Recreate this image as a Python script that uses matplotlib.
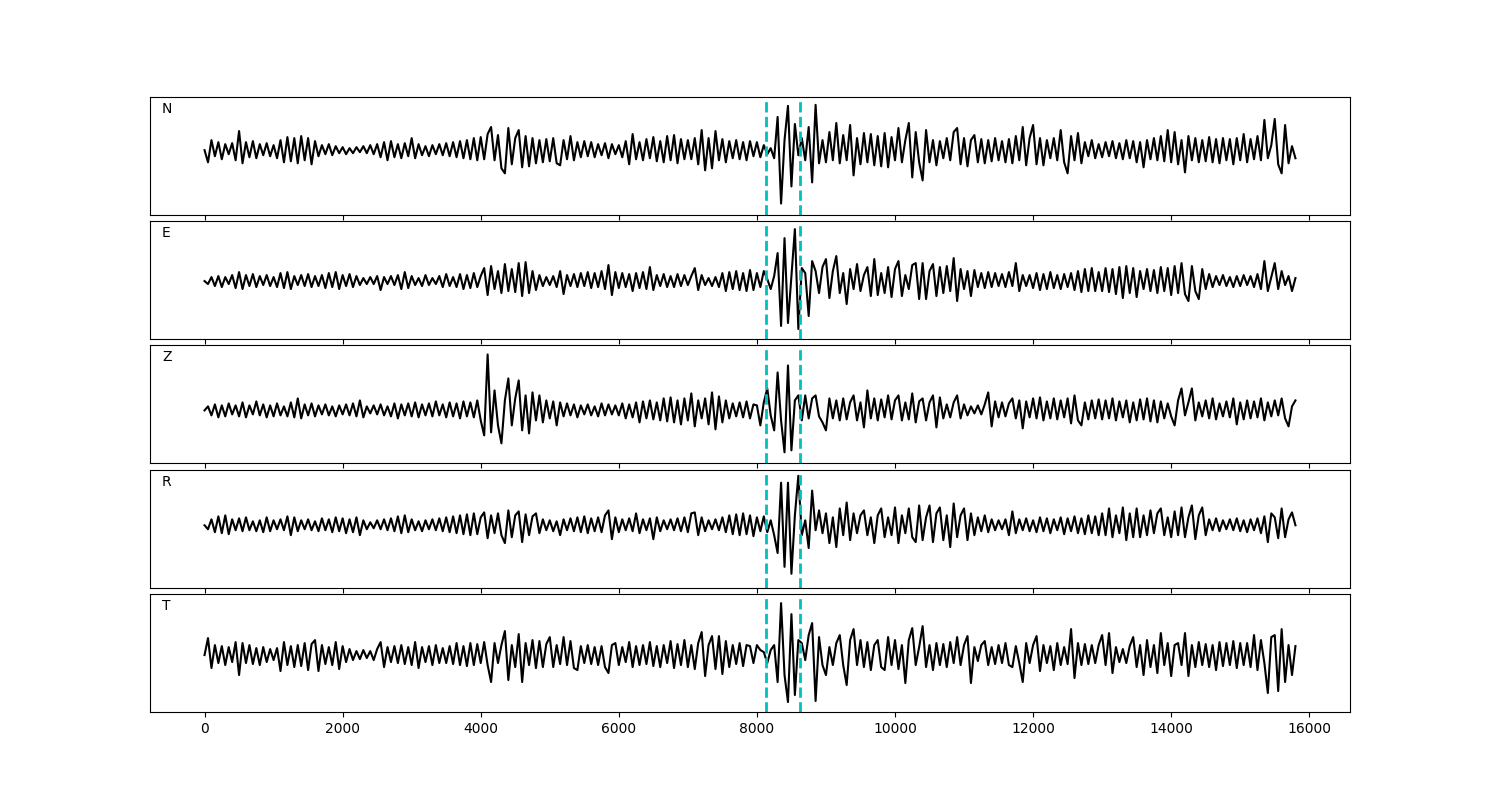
import numpy as np
import matplotlib.pyplot as plt

dt = 50
picks = [8130, 8620]
labels = ['N', 'E', 'Z', 'R', 'T']

n_trace = [
    0, -12, 10, -6, 8, -9, 6, -4, 7, -10, 19, -13, 8, -7, 9, -8, 6, -5, 7, -6,
    5, -8, 10, -12, 13, -11, 12, -13, 14, -10, 12, -14, 9, -6, 5, -4, 6, -5, 4, -3,
    3, -4, 2, -3, 3, -2, 4, -3, 5, -4, 6, -7, 8, -10, 9, -7, 6, -8, 7, -6,
    12, -8, 6, -5, 4, -6, 5, -4, 6, -5, 7, -6, 8, -7, 9, -8, 10, -9, 12, -10,
    13, -9, 16, 23, -10, 15, -18, -23, 22, -14, 12, 20, -17, 14, -16, 12, -13, 10, -12, 11,
    -11, 12, -13, -15, 10, -9, 14, -10, 8, -7, 9, -6, 8, -7, 6, -5, 7, -8, 6, -4,
    5, -7, 9, -14, 16, -9, 8, -10, 11, -8, 13, -11, 9, -12, 14, -10, 15, -13, 11, -9,
    10, -9, 12, -14, 20, -20, 12, -18, 19, -10, 11, -12, 9, -8, 10, -9, 8, -10, 9, -6,
    8, -7, 5, -4, 2, -8, 33, -53, 10, 44, -36, 26, -5, 12, -10, 23, -32, 45, -13, 10,
    -12, 18, -10, 27, -13, 15, -10, 25, -25, 12, -14, 17, -12, 16, -15, 14, -16, 17, -17, 13,
    -10, 22, -12, 10, 27, -27, 18, -12, -30, 20, -12, 10, -15, 9, -8, 12, -10, 18, 22, -14,
    12, -16, 10, 15, -12, 11, -13, 10, -11, 12, -10, 9, -12, 11, -13, 14, -10, 23, -15, 12,
    25, -14, 12, -15, 10, -8, 12, -10, 20, -12, -23, 14, -10, 17, -13, 8, -6, 10, -8, 6,
    -7, 8, -6, 9, -8, 7, -9, 10, -8, 9, -12, 8, -17, 10, -9, 12, -10, 14, -11, 20,
    -12, 18, -14, 10, -22, 14, -10, 12, -12, 10, -11, 13, -12, 11, -13, 12, -10, 11, -14, 12,
    -10, 16, -12, 11, -9, 14, -10, 30, -8, 5, 31, -14, -23, 25, -13, 4, -8,
]

e_trace = [
    0, -3, 4, -5, 5, -6, 4, -3, 6, -7, 9, -8, 6, -5, 7, -6, 5, -4, 6, -5,
    4, -6, 8, -7, 9, -8, 5, -4, 6, -5, 7, -6, 5, -5, 6, -7, 8, -6, 9, -8,
    6, -5, 7, -6, 5, -4, 3, -3, 4, -3, 5, -9, 4, -3, 5, -4, 6, -8, 9, -7,
    5, -4, 3, -5, 6, -4, 3, -3, 5, -6, 7, -5, 4, -6, 7, -8, 6, -7, 8, -6,
    5, 13, -14, 15, -8, 10, -12, 17, -10, 12, -11, 18, -15, 19, -12, 10, -9, 6, -5, 4,
    -4, 5, -6, 10, -13, 6, -5, 7, -6, 8, -5, 9, -7, 8, -6, 10, -8, 16, -14, 9,
    -7, 8, -6, 7, -10, 8, -7, 9, -8, 14, -9, 6, -5, 7, -6, 5, -6, 7, -5, 6,
    -4, 5, 13, -9, 6, -4, 3, -5, 4, -6, 8, -10, 9, -8, 10, -9, 8, -10, 11, -9,
    8, -6, 10, 2, -8, 5, 28, -45, 43, -42, 5, 52, -48, 13, 8, -35, 20, 10, -12, 14,
    22, -17, 10, 25, -12, 8, -23, 12, -8, 17, -10, 6, 14, -15, 22, -14, 8, -12, 14, -16,
    12, 20, -15, 6, -8, 16, 18, -18, 18, -18, 10, 17, -15, 14, -12, 15, -10, 23, -20, 12,
    -8, 10, -15, 11, -6, 8, -7, 9, -6, 8, -5, 7, -6, 9, -5, 18, -10, 6, -5, 6,
    -7, 8, -9, 7, -8, 9, -7, 6, -8, 7, -6, 8, -9, 10, -11, 12, -10, 13, -10, 9,
    -10, 13, -11, 12, -13, 14, -17, 15, -12, 13, -16, 10, -8, 12, -10, 11, -12, 14, -10, 13,
    -14, 15, -12, 18, -13, -20, 15, -10, -18, 12, -8, 7, -6, 5, -4, 6, -5, 4, -6, 5,
    -5, 6, -4, 5, -6, 7, -8, 20, -10, 4, 18, -8, 10, -4, 5, -10, 3,
]

z_trace = [
    0, 4, -5, 6, -7, 5, -6, 7, -4, 5, -6, 8, -7, 5, -4, 9, -5, 6, -7, 5,
    -6, 7, -5, 4, -6, 8, -7, 12, -8, 6, -5, 7, -6, 5, -4, 6, -5, 4, -6, 5,
    -4, 6, -5, 7, -6, 10, -7, 4, -3, 5, -4, 6, -5, 4, -6, 7, -8, 6, -5, 7,
    -6, 8, -7, 6, -5, 7, -6, 9, -5, 6, -7, 8, -6, 7, -8, 9, -6, 8, -7, 10,
    -10, -25, 56, -22, 20, -15, -33, 10, 32, -15, 12, 30, -20, 15, -23, 18, -10, 15, -12, 10,
    -8, 9, -15, 8, -6, 7, -5, 6, -7, 5, -4, 6, -5, 4, -6, 7, -5, 6, -4, 5,
    -5, 7, -8, 6, -7, 8, -12, 9, -8, 10, -9, 8, -10, 12, -11, 13, -12, 10, -14, 12,
    -10, 17, -16, 10, -8, 12, -14, 18, -19, 14, -12, 10, -8, 7, -6, 8, -7, 9, -8, 6,
    5, -15, 8, 22, -5, -20, 38, -10, -42, 45, -40, 10, 15, -10, 15, -8, 12, 15, -6, -12,
    -20, 12, -8, 10, -10, 12, -9, 8, 15, -10, 8, -17, 20, -8, 12, -10, 11, -7, 15, -9,
    10, 15, -10, 8, -9, 17, -12, 9, 12, -10, 8, 15, -17, 13, -8, 6, -7, 8, 15, -8,
    6, -5, 4, -3, 5, -4, 6, 18, -16, 9, -7, 8, -6, 7, 12, -8, 10, -18, 9, -7,
    12, -8, 13, -10, 9, -8, 12, -9, 10, -7, 12, -13, 15, -10, -15, 8, -9, 10, -8, 11,
    -9, 10, -8, 12, -10, 9, -7, 10, -12, 8, -10, 11, -9, 12, -11, 10, -12, 9, -8, 7,
    -6, -15, 10, 22, -5, 8, 22, -10, 8, -6, 10, -8, 12, -9, 7, -6, 9, -7, 12, -14,
    8, -9, 10, -8, 9, -7, 12, -10, 8, -6, 10, -5, 12, -8, -16, 4, 10,
]

r_trace = [
    0, -4, 6, -7, 9, -8, 10, -9, 6, -5, 7, -6, 8, -5, 4, -6, 5, -7, 8, -6,
    5, -4, 6, -5, 9, -10, 8, -6, 5, -4, 6, -5, 4, -6, 7, -5, 6, -7, 8, -6,
    7, -8, 6, -7, 8, -10, 5, -4, 3, -3, 5, -4, 6, -5, 7, -6, 9, -8, 10, -7,
    6, -5, 4, -6, 5, -4, 6, -5, 7, -6, 8, -7, 9, -8, 10, -9, 11, -10, 12, -9,
    8, 13, -13, 10, -8, 12, -10, -18, 15, -12, 10, 14, -17, 11, -10, 9, 12, -8, 6, -5,
    5, -6, 4, -10, 6, -5, 7, -6, 8, -7, 9, -8, 7, -6, 8, -7, 10, 15, -14, 8,
    -7, 6, -5, 7, -6, 12, -8, 6, -5, 7, -14, 8, -6, 5, -4, 6, -5, 7, -6, 8,
    -7, 12, 13, -10, 8, -6, 5, -4, 6, -5, 8, -7, 10, -9, 11, -10, 12, -9, 10, -11,
    8, -6, 9, -7, 5, -10, -28, 43, -42, 43, -49, 10, 50, -10, 5, -23, 35, -5, 15, -8,
    12, -18, 8, -22, 17, -10, 23, -15, 12, -8, 10, 15, -10, 8, -18, 10, 17, -12, 8, -10,
    18, -18, 10, -8, 17, -12, -17, 20, -15, 8, 20, -17, 12, 18, -15, 10, -22, 22, -12, 10,
    17, -15, 12, -10, 8, -6, 10, -7, 6, -5, 5, -4, 6, -10, 14, -8, 6, -5, 7, -6,
    5, -7, 8, -6, 7, -8, 6, -5, 8, -9, 7, -6, 9, -8, 7, -9, 10, -8, 9, -10,
    12, -10, 17, -12, 10, -8, 18, -15, 12, -12, 17, -12, 10, -10, 15, -8, 12, 17, -10, 8,
    -12, 14, -10, 18, -12, 8, 20, -14, 10, 18, -10, 6, -5, 7, -6, 5, -4, 6, -5, 7,
    -6, 5, -7, 6, -5, 7, -8, 9, -17, 12, 8, -13, 17, -12, 6, 13, 0,
]

t_trace = [
    0, 17, -13, 10, -8, 9, -10, 8, -7, 13, -20, 12, -8, 10, -9, 7, -10, 8, -7, 6,
    -5, 7, -16, 13, -10, 9, -12, 10, -11, 12, -15, 11, 15, -16, 10, -9, 8, -10, 13, -14,
    9, -7, 6, -5, 4, -4, 5, -3, 4, -5, 6, 13, -12, 8, -7, 9, -8, 10, -9, 8,
    -10, 13, -13, 8, -7, 9, -10, 10, -8, 7, -8, 9, -9, 12, -10, 9, -11, 12, -10, 11,
    -8, 13, -10, -27, 12, -8, 10, 24, -25, 10, -12, 21, -27, 12, -10, 15, -13, 14, -12, 11,
    18, -12, 10, -9, 18, -10, 14, -13, -15, 9, -8, 10, -9, 8, -10, 9, -12, -18, 10, 12,
    -10, 8, -7, 13, -12, 9, -10, 10, -9, 13, -11, 9, -12, 10, -8, 14, -13, 11, -10, 15,
    -12, 10, -14, 12, 23, -21, 10, 19, -14, 19, -19, 14, -12, 10, -9, 12, -11, 10, 9, -8,
    10, 5, 3, -8, 5, 10, -27, 52, -20, -47, 41, -40, 15, 12, -5, 20, 32, -46, 18, -10,
    -20, 8, -10, 12, 20, -10, -30, 15, 26, -10, 15, -12, 13, -15, 10, 15, -12, -15, 18, -10,
    15, -14, 10, -28, 15, 27, -10, 8, 29, -12, 10, -15, 12, -10, 11, -12, 13, -8, 18, -10,
    10, 19, -28, 8, -6, 10, 14, -10, 8, -9, 10, -8, 12, -10, -12, 9, -8, -27, 12, -8,
    10, 19, -16, 10, -8, 9, -15, 12, -10, 8, -9, 26, -23, 12, -10, 11, -9, 10, -8, 10,
    20, -10, 22, -18, 8, -7, 6, -8, 9, 18, -12, 10, -20, 15, -12, 10, -18, 22, -10, 12,
    -21, 10, 12, -10, 22, -21, 10, -12, 13, -10, 11, -12, 10, -15, 13, -11, 12, -10, 14, -13,
    12, -10, 12, -12, 20, -15, 15, -8, -38, 18, 20, -36, 26, -27, 10, -20, 9,
]

traces = [n_trace, e_trace, z_trace, r_trace, t_trace]
ylims = [(-64, 53), (-58, 60), (-53, 65), (-63, 56), (-57, 61)]

fig, axes = plt.subplots(5, 1, figsize=(15, 8), sharex=True)
fig.subplots_adjust(left=0.1, right=0.9, top=0.879, bottom=0.11, hspace=0.055)

for ax, lab, tr, yl in zip(axes, labels, traces, ylims):
    t = np.arange(len(tr)) * dt
    ax.plot(t, tr, 'k', lw=1.5)
    for p in picks:
        ax.axvline(p, color='c', ls='--', lw=2)
    ax.set_ylim(yl)
    ax.set_yticks([])
    ax.text(0.01, 0.9, lab, transform=ax.transAxes, va='center')

plt.savefig('out.png')
